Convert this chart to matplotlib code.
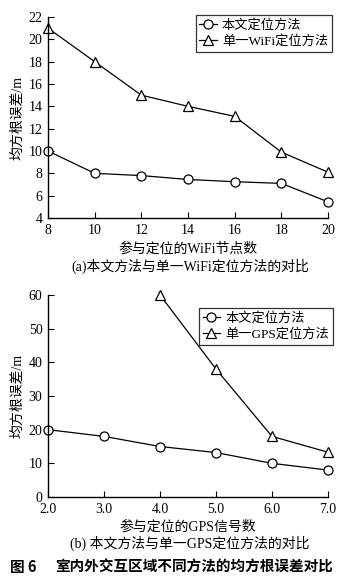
import matplotlib
matplotlib.use("Agg")
import matplotlib.pyplot as plt

plt.rcParams['font.family'] = ['Liberation Serif', 'Noto Sans CJK SC']
plt.rcParams['axes.unicode_minus'] = False

# Panel (a)
wifi_nodes = [8, 10, 12, 14, 16, 18, 20]
ours_a = [10.0, 8.0, 7.8, 7.45, 7.25, 7.1, 5.45]
wifi_only = [21.0, 18.0, 15.0, 14.0, 13.1, 9.9, 8.1]
yticks_a = [4, 6, 8, 10, 12, 14, 16, 18, 20, 22]

# Panel (b)
gps_signals = [2.0, 3.0, 4.0, 5.0, 6.0, 7.0]
ours_b = [20.0, 18.0, 15.0, 13.2, 10.0, 8.0]
gps_x = [4.0, 5.0, 6.0, 7.0]
gps_only = [60.0, 38.0, 18.0, 13.3]
yticks_b = [0, 10, 20, 30, 40, 50, 60]
xticks_b = [2.0, 3.0, 4.0, 5.0, 6.0, 7.0]

W, H = 362, 582
fig = plt.figure(figsize=(W / 100, H / 100), dpi=100)

def style(ax):
    ax.spines['top'].set_visible(False)
    ax.spines['right'].set_visible(False)
    ax.spines['left'].set_linewidth(1.0)
    ax.spines['bottom'].set_linewidth(1.0)
    ax.tick_params(direction='in', length=4, width=0.8, labelsize=10, pad=4)

mk = dict(color='black', lw=0.9, markersize=6.5, markerfacecolor='white',
          markeredgecolor='black', markeredgewidth=0.9, clip_on=False)

leg_kw = dict(fontsize=9.5, frameon=True, fancybox=False, edgecolor='black',
              handlelength=1.3, handletextpad=0.4, borderpad=0.3,
              labelspacing=0.25, borderaxespad=0, loc='upper right')

ax1 = fig.add_axes([48 / W, 1 - 218 / H, 280 / W, 201 / H])
ax1.plot(wifi_nodes, ours_a, marker='o', label='本文定位方法', **mk)
ax1.plot(wifi_nodes, wifi_only, marker='^', label='单一WiFi定位方法', **mk)
ax1.set_xlim(8, 20)
ax1.set_ylim(4, 22)
ax1.set_xticks(wifi_nodes)
ax1.set_yticks(yticks_a)
style(ax1)
ax1.set_xlabel('参与定位的WiFi节点数', fontsize=10, labelpad=4)
ax1.yaxis.set_label_coords(-0.085, 0.5)
ax1.set_ylabel('均方根误差/m', fontsize=10)
leg1 = ax1.legend(bbox_to_anchor=(332 / W, 1 - 15 / H),
                  bbox_transform=fig.transFigure, **leg_kw)
leg1.get_frame().set_linewidth(0.9)
fig.text(190 / W, 1 - 266 / H, '(a)本文方法与单一WiFi定位方法的对比',
         ha='center', va='center', fontsize=10)

ax2 = fig.add_axes([48 / W, 1 - 497 / H, 280 / W, 202 / H])
ax2.plot(gps_signals, ours_b, marker='o', label='本文定位方法', **mk)
ax2.plot(gps_x, gps_only, marker='^', label='单一GPS定位方法', **mk)
ax2.set_xlim(2, 7)
ax2.set_ylim(0, 60)
ax2.set_xticks(xticks_b)
ax2.set_xticklabels([f'{v:.1f}' for v in xticks_b])
ax2.set_yticks(yticks_b)
style(ax2)
ax2.set_xlabel('参与定位的GPS信号数', fontsize=10, labelpad=3)
ax2.yaxis.set_label_coords(-0.085, 0.5)
ax2.set_ylabel('均方根误差/m', fontsize=10)
leg2 = ax2.legend(bbox_to_anchor=(333 / W, 1 - 308 / H),
                  bbox_transform=fig.transFigure, **leg_kw)
leg2.get_frame().set_linewidth(0.9)
fig.text(190 / W, 1 - 543 / H, '(b) 本文方法与单一GPS定位方法的对比',
         ha='center', va='center', fontsize=10)

fig.text(10 / W, 1 - 567 / H, '图 6',
         ha='left', va='center', fontsize=10.5, fontweight='bold',
         family=['Noto Sans CJK SC', 'DejaVu Sans'])
fig.text(333 / W, 1 - 567 / H, '室内外交互区域不同方法的均方根误差对比',
         ha='right', va='center', fontsize=10.5, fontweight='bold',
         family=['Noto Sans CJK SC', 'DejaVu Sans'])

fig.savefig('out.png', dpi=100)
